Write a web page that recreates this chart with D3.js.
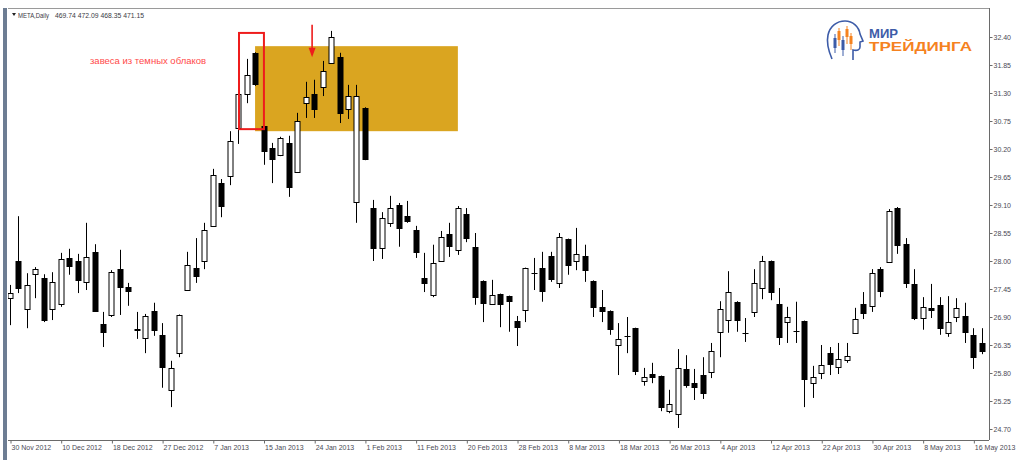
<!DOCTYPE html>
<html lang="ru">
<head>
<meta charset="UTF-8">
<title>META, Daily</title>
<script src="https://cdn.jsdelivr.net/npm/d3@7"></script>
<style>
  body { margin: 0; background: #fff; }
  text { font-family: "Liberation Sans", Arial, sans-serif; }
</style>
</head>
<body>
<div id="chart"></div>
<script>
// daily bars, 30 Nov 2012 .. 17 May 2013 (116 bars)
const opens = [27.27,28.00,27.06,27.74,27.67,27.06,27.16,28.06,28.00,27.59,
  28.18,26.76,26.94,27.84,27.49,26.66,26.49,27.02,26.55,25.47,
  26.19,27.43,27.86,28.00,28.69,29.53,29.67,30.61,31.28,32.09,
  30.65,30.22,30.08,30.32,29.75,31.10,31.28,31.42,31.89,32.01,
  30.99,29.16,31.01,29.04,28.26,28.75,29.10,28.88,28.61,27.67,
  27.33,28.00,28.53,28.22,28.92,28.28,27.61,27.16,27.35,27.31,
  26.82,27.04,27.76,27.86,28.10,27.57,28.43,28.00,28.10,27.61,
  27.10,27.02,26.35,26.53,26.68,25.64,25.78,25.74,25.05,24.99,
  25.88,25.60,25.76,25.82,26.61,26.84,27.20,26.59,27.00,27.47,
  28.00,27.16,26.80,26.63,26.82,25.60,25.80,26.19,25.92,26.06,
  26.59,27.16,27.12,27.84,27.98,29.04,28.33,27.55,26.88,27.08,
  27.14,26.59,26.90,26.92,26.55,26.39];
const highs = [27.53,28.88,27.76,27.88,27.74,27.78,28.16,28.24,28.14,28.75,
  28.33,27.00,27.82,28.22,27.57,27.00,26.96,27.18,26.78,26.04,
  26.95,28.18,28.45,28.75,29.81,29.61,30.55,31.46,31.97,32.10,
  30.66,30.32,30.44,30.46,30.91,31.52,31.56,31.93,32.52,32.09,
  31.46,31.46,31.02,29.20,28.96,29.28,29.14,29.18,28.69,28.16,
  28.32,28.59,28.75,29.08,29.04,28.55,27.62,27.63,27.36,27.32,
  26.92,27.87,28.06,28.18,28.18,28.55,28.44,28.65,28.32,27.62,
  27.43,27.03,26.78,26.90,26.69,25.90,26.00,25.75,25.47,26.27,
  26.15,25.88,26.11,26.39,27.21,27.80,27.21,26.88,27.84,28.10,
  28.01,27.47,27.10,27.20,26.83,25.94,26.35,26.31,26.39,26.39,
  27.08,27.39,27.84,27.88,29.02,29.06,28.45,27.84,27.29,27.55,
  27.29,27.31,27.27,27.18,26.68,26.68];
const lows = [26.74,27.37,26.68,27.27,26.80,26.84,27.10,27.73,27.37,27.43,
  27.01,26.31,26.90,26.94,27.12,26.47,26.19,26.53,25.51,25.13,
  26.11,27.42,27.57,27.84,28.67,28.86,29.49,30.30,31.10,31.44,
  29.89,29.53,30.06,29.26,29.74,30.81,30.81,31.24,31.88,30.71,
  30.79,28.75,29.98,28.00,28.04,28.67,28.28,28.75,28.06,27.39,
  27.29,27.99,28.08,28.12,28.37,27.14,26.80,27.15,26.70,26.61,
  26.33,26.80,27.43,27.20,27.59,27.47,27.73,27.82,27.59,26.90,
  26.80,26.55,25.76,26.19,25.76,25.55,25.60,25.05,25.01,24.72,
  25.51,25.27,25.29,25.70,26.11,26.59,26.61,26.41,26.90,27.25,
  27.23,26.35,26.39,26.39,25.13,25.31,25.68,25.76,25.78,26.00,
  26.58,26.86,27.00,27.29,27.97,28.14,27.47,26.84,26.65,26.88,
  26.55,26.51,26.80,26.39,25.88,26.17];
const closes = [27.37,27.47,27.53,27.84,26.84,27.59,28.04,27.90,27.63,28.08,
  27.02,26.61,27.78,27.49,27.41,26.67,26.92,26.65,25.92,25.90,
  26.94,27.92,27.71,28.61,29.69,29.08,30.36,31.28,31.65,31.48,
  30.16,30.00,30.42,29.45,30.75,31.22,30.99,31.73,32.40,30.91,
  31.24,31.24,30.00,28.26,28.85,29.04,28.65,28.79,28.18,27.57,
  27.96,28.47,28.30,29.04,28.45,27.29,27.18,27.33,27.16,27.21,
  26.70,27.86,27.76,27.41,27.65,28.47,27.92,28.14,27.82,27.10,
  27.02,26.66,26.47,26.53,25.84,25.72,25.72,25.13,25.19,25.90,
  25.56,25.53,25.41,26.23,27.06,27.39,26.84,26.59,27.57,28.00,
  27.39,26.51,26.90,26.63,25.68,25.72,25.96,25.98,26.08,26.13,
  26.86,26.98,27.76,27.41,28.98,28.32,27.57,26.88,27.10,27.04,
  26.68,26.80,27.08,26.61,26.11,26.23];

// one date label every 6 bars
const dateLabels = ["30 Nov 2012","10 Dec 2012","18 Dec 2012","27 Dec 2012","7 Jan 2013",
  "15 Jan 2013","24 Jan 2013","1 Feb 2013","11 Feb 2013","20 Feb 2013","28 Feb 2013",
  "8 Mar 2013","18 Mar 2013","26 Mar 2013","4 Apr 2013","12 Apr 2013","22 Apr 2013",
  "30 Apr 2013","8 May 2013","16 May 2013"];
const priceTicks = [32.40,31.85,31.30,30.75,30.20,29.65,29.10,28.55,28.00,27.45,26.90,26.35,25.80,25.25,24.70];

const width = 1024, height = 461;
const frame = {left: 8, top: 8, right: 989, bottom: 440};

const bars = opens.map((o, i) => ({i: i, o: o, h: highs[i], l: lows[i], c: closes[i]}));

const svg = d3.select("#chart").append("svg")
  .attr("width", width)
  .attr("height", height)
  .style("display", "block");

svg.append("rect").attr("width", width).attr("height", height).attr("fill", "#fff");

const x = d3.scaleLinear().domain([0, bars.length - 1]).range([10, 981.8]);
const y = d3.scaleLinear().domain([24.70, 32.40]).range([429, 37]);

// window border on the left
svg.append("rect").attr("x", 3).attr("y", 8).attr("width", 4).attr("height", 452).attr("fill", "#6d7d93");

// resistance zone (drawn under the candles)
svg.append("rect")
  .attr("x", x(29)).attr("y", y(32.22))
  .attr("width", x(53) - x(29)).attr("height", y(30.55) - y(32.22))
  .attr("fill", "#daa520");

svg.append("clipPath").attr("id", "plotclip").append("rect")
  .attr("x", frame.left).attr("y", frame.top)
  .attr("width", frame.right - frame.left).attr("height", frame.bottom - frame.top);

const g = svg.append("g").attr("clip-path", "url(#plotclip)");

const candle = g.selectAll("g.candle").data(bars).enter().append("g").attr("class", "candle");
candle.append("line")
  .attr("x1", d => Math.round(x(d.i)) + 0.5).attr("x2", d => Math.round(x(d.i)) + 0.5)
  .attr("y1", d => y(d.h)).attr("y2", d => y(d.l))
  .attr("stroke", "#000").attr("stroke-width", 1);
candle.append("rect")
  .attr("x", d => Math.round(x(d.i)) - 2)
  .attr("y", d => Math.round(y(Math.max(d.o, d.c))) + 0.5)
  .attr("width", 5)
  .attr("height", d => Math.max(0.01, Math.round(Math.abs(y(d.o) - y(d.c)))))
  .attr("fill", d => d.c >= d.o ? "#fff" : "#000")
  .attr("stroke", "#000").attr("stroke-width", 1);

// frame lines
svg.append("line").attr("x1", frame.left).attr("x2", frame.right).attr("y1", frame.top + 0.5).attr("y2", frame.top + 0.5).attr("stroke", "#9a9a9a");
svg.append("line").attr("x1", frame.right + 0.5).attr("x2", frame.right + 0.5).attr("y1", frame.top).attr("y2", frame.bottom).attr("stroke", "#6a6a6a");
svg.append("line").attr("x1", frame.left).attr("x2", frame.right).attr("y1", frame.bottom + 0.5).attr("y2", frame.bottom + 0.5).attr("stroke", "#6a6a6a");

// price axis
const yAxis = svg.append("g").attr("transform", `translate(${frame.right + 0.5},0)`)
  .call(d3.axisRight(y).tickValues(priceTicks).tickFormat(d3.format(".2f")).tickSize(3).tickPadding(1));
yAxis.select(".domain").remove();
yAxis.selectAll("line").attr("stroke", "#6a6a6a");
yAxis.selectAll("text").attr("fill", "#4a4a55").style("font-size", "7px");

// time axis
const xAxis = svg.append("g").attr("transform", `translate(0,${frame.bottom + 0.5})`)
  .call(d3.axisBottom(x).tickValues(d3.range(0, bars.length, 6)).tickFormat((d, i) => dateLabels[i]).tickSize(3));
xAxis.select(".domain").remove();
xAxis.selectAll("line").attr("stroke", "#6a6a6a").attr("transform", "translate(0.5,0)");
xAxis.selectAll("text").attr("text-anchor", "start").attr("dx", 1).attr("y", 4.5)
  .attr("fill", "#4a4a55").style("font-size", "7px");

// header
svg.append("path").attr("d", "M12,13 L16,13 L14,16 Z").attr("fill", "#222");
svg.append("text").attr("x", 18).attr("y", 17.5).attr("fill", "#3a3a44").style("font-size", "7px")
  .attr("textLength", 31).attr("lengthAdjust", "spacingAndGlyphs").text("META,Daily");
svg.append("text").attr("x", 55).attr("y", 17.5).attr("fill", "#3a3a44").style("font-size", "7px")
  .attr("textLength", 89).attr("lengthAdjust", "spacingAndGlyphs").text("469.74 472.09 468.35 471.15");

// annotation
svg.append("text").attr("x", 90).attr("y", 63.5).attr("fill", "#ff4a4a").style("font-size", "9.5px")
  .text("завеса из темных облаков");

svg.append("rect")
  .attr("x", x(27.1)).attr("y", y(32.48))
  .attr("width", x(30.05) - x(27.1)).attr("height", y(30.59) - y(32.48))
  .attr("fill", "none").attr("stroke", "#ee1c1c").attr("stroke-width", 2);

const ax = x(35.75);
svg.append("line").attr("x1", ax).attr("x2", ax).attr("y1", y(32.64)).attr("y2", y(32.15))
  .attr("stroke", "#ee1c1c").attr("stroke-width", 1.6);
svg.append("path").attr("d", `M${ax - 3.5},${y(32.19)} L${ax + 3.5},${y(32.19)} L${ax},${y(32.0)} Z`)
  .attr("fill", "#ee1c1c");

// logo
const logo = svg.append("g");
logo.append("path")
  .attr("d", "M832,59 C829,52 826,44 828,35 C830,26 837,21 845,21 C853,21 859,27 860,34 L863,41 L860,42 L860,47 C860,50 857,51 853,50 L853,60")
  .attr("fill", "none").attr("stroke", "#3d5ca8").attr("stroke-width", 1.6);
const icon = [[835,34,53,38,48,"#3d5ca8"],[839,28,46,31,40,"#f5821f"],[843,36,56,40,50,"#3d5ca8"],[847,26,44,29,37,"#f5821f"],[851,33,50,36,44,"#f5821f"]];
icon.forEach(c => {
  logo.append("line").attr("x1", c[0]).attr("x2", c[0]).attr("y1", c[1]).attr("y2", c[2]).attr("stroke", c[5]).attr("stroke-width", 1);
  logo.append("rect").attr("x", c[0] - 1.5).attr("y", c[3]).attr("width", 3).attr("height", c[4] - c[3]).attr("fill", c[5]);
});
logo.append("text").attr("x", 869).attr("y", 38).attr("fill", "#3d5ca8")
  .style("font-size", "12.5px").style("font-weight", "700")
  .attr("textLength", 29).attr("lengthAdjust", "spacingAndGlyphs").text("МИР");
logo.append("text").attr("x", 869).attr("y", 51).attr("fill", "#f5821f")
  .style("font-size", "12.5px").style("font-weight", "700")
  .attr("textLength", 103).attr("lengthAdjust", "spacingAndGlyphs").text("ТРЕЙДИНГА");
</script>
</body>
</html>
